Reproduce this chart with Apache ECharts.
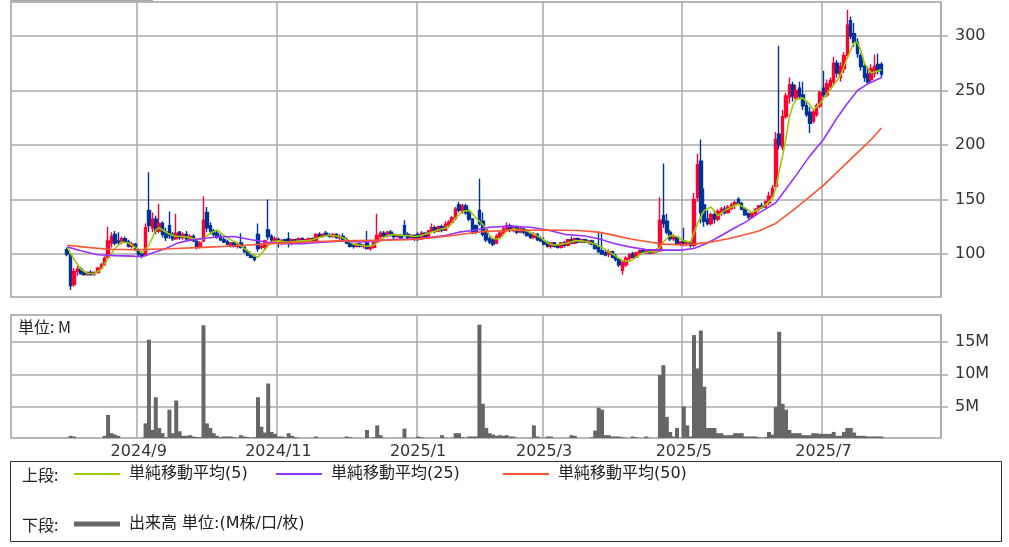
<!DOCTYPE html>
<html><head><meta charset="utf-8">
<script src="https://cdn.jsdelivr.net/npm/echarts@6/dist/echarts.min.js"></script>
<style>html,body{margin:0;padding:0;background:#fff}#c{width:1009px;height:547px}</style>
</head><body><div id="c"></div><script>
// ---------- calendar (Tokyo exchange trading days) ----------
const calendarStart = '2024/07/09';
const calendarEnd = '2025/08/20';
const holidays = ['2024/07/15','2024/08/12','2024/09/16','2024/09/23','2024/10/14','2024/11/04','2024/12/31',
  '2025/01/01','2025/01/02','2025/01/03','2025/01/13','2025/02/11','2025/02/24','2025/03/20','2025/04/29',
  '2025/05/05','2025/05/06','2025/07/21','2025/08/11'];
const monthLabels = ['2024/9','2024/11','2025/1','2025/3','2025/5','2025/7'];
const priceTicks = [100,150,200,250,300];
const volumeTicks = [5,10,15];

// ---------- daily candles [open, high, low, close] from 2024/08/01 ----------
const candleStart = '2024/08/01';
const candles = [
[104,106,98,100],[99,100,67,71],[72,87,70,84],[84,89,80,86],[86,88,81,82],[83,85,80,81],[81,84,80,83],[83,85,80,81],[82,84,80,83],[83,88,82,87],
[87,92,86,90],[90,98,89,96],[97,125,96,112],[110,120,106,116],[118,121,108,110],[112,120,108,111],[111,116,109,114],[114,116,110,111],[111,113,106,107],[107,111,105,109],
[109,110,103,104],[104,105,98,100],[100,102,96,98],[99,128,98,124],[140,175,120,126],[124,138,120,132],[132,135,118,121],[121,146,119,128],[128,130,115,118],[120,124,112,115],
[126,139,114,117],[118,120,112,114],[114,137,113,119],[120,121,113,115],[115,120,113,118],[118,121,112,114],[114,118,112,116],[116,118,111,112],[112,114,104,106],[106,112,105,110],
[112,153,111,131],[138,143,120,124],[126,129,118,121],[121,123,116,118],[119,121,114,116],[116,118,112,113],[113,115,110,111],[111,113,108,109],[108,111,106,110],[110,111,106,107],
[107,110,105,108],[110,119,105,106],[106,107,101,102],[102,104,98,99],[99,101,96,97],[97,98,93,95],[118,128,102,105],[106,110,104,107],[106,113,104,112],[122,150,113,116],
[116,118,111,113],[112,116,110,114],[113,115,106,110],[110,114,108,112],[113,114,109,110],[114,120,106,110],[110,114,108,113],[113,114,110,111],[111,115,110,114],[114,115,111,112],
[112,114,110,113],[113,115,111,114],[114,115,111,112],[112,119,111,118],[118,120,115,116],[116,119,115,118],[119,121,116,117],[117,119,115,116],[116,119,115,118],[118,119,114,115],
[115,118,113,116],[116,119,112,113],[113,115,109,110],[110,111,106,107],[108,109,105,107],[107,110,106,109],[109,110,106,107],[107,109,105,108],[110,121,104,105],[105,108,103,106],
[106,111,105,110],[111,137,110,117],[116,121,114,119],[119,121,115,117],[117,121,115,120],[120,122,116,118],[118,119,114,116],[116,118,115,117],[117,118,114,115],[126,131,116,118],
[118,120,113,115],[115,118,113,117],[117,118,112,114],[118,120,112,114],[114,121,113,119],[119,120,114,116],[116,122,115,121],[121,128,119,124],[124,126,119,121],[121,126,120,125],
[125,127,120,122],[122,130,121,127],[127,131,124,129],[129,135,127,133],[133,143,131,141],[145,148,138,140],[139,146,137,144],[144,146,136,138],[139,141,130,132],[132,133,118,120],
[126,127,118,120],[140,169,126,128],[130,138,116,118],[122,124,111,113],[114,116,109,111],[113,114,107,109],[110,118,109,116],[116,121,114,119],[119,125,117,123],[123,129,121,126],
[126,128,120,122],[122,126,120,124],[124,126,118,120],[120,125,119,123],[123,124,118,120],[121,123,116,117],[118,120,114,115],[115,120,114,118],[118,119,112,113],[114,116,111,112],
[112,115,108,109],[110,112,106,107],[107,111,105,110],[110,111,106,107],[108,109,105,106],[106,111,105,110],[110,112,106,108],[108,114,107,113],[113,116,109,110],[110,115,109,114],
[114,115,110,111],[111,114,110,113],[113,114,110,111],[111,113,109,112],[112,113,108,109],[109,110,104,105],[106,120,101,102],[103,119,99,100],[101,103,98,99],[100,104,97,102],
[102,103,96,97],[98,100,93,95],[95,96,88,90],[85,94,81,92],[90,98,88,96],[96,101,94,99],[100,102,96,97],[97,102,96,101],[101,104,99,103],[103,105,100,101],
[101,104,100,103],[103,104,100,101],[101,104,100,103],[103,105,101,102],[103,152,102,131],[135,183,124,128],[130,137,118,120],[120,122,112,114],[114,118,112,116],[115,116,108,109],
[109,112,107,111],[112,124,107,109],[109,112,107,110],[110,112,106,108],[108,156,106,150],[152,192,148,182],[185,205,128,138],[145,160,125,130],[132,140,126,128],[128,138,126,136],
[136,140,128,132],[132,141,130,139],[138,143,135,141],[141,144,136,138],[138,145,137,143],[142,147,140,145],[145,149,141,147],[150,152,145,146],[146,148,140,141],[141,143,135,136],
[137,138,132,134],[134,138,132,137],[137,142,135,141],[141,145,139,144],[144,147,141,143],[143,149,142,148],[147,157,145,153],[153,163,151,160],[162,212,160,205],[210,291,196,200],
[198,232,195,226],[226,248,224,245],[244,262,238,255],[255,258,240,245],[243,255,240,250],[252,258,242,245],[246,258,232,236],[236,240,226,228],[230,235,211,220],[222,232,220,230],
[228,238,226,236],[236,250,234,248],[252,268,244,246],[246,260,244,256],[254,262,250,259],[258,281,255,275],[275,278,262,266],[262,276,258,272],[270,285,266,282],[282,324,280,310],
[314,318,297,300],[302,312,290,294],[294,298,280,284],[282,284,268,272],[272,274,258,262],[265,272,256,258],[260,274,258,270],[266,283,262,272],[274,284,265,268],[274,276,262,265]
];

// ---------- daily volume (M shares) from 2024/08/01 ----------
const volume = [
0.3,0.6,0.5,0.2,0.15,0.1,0.1,0.1,0.1,0.15,
0.15,0.6,3.8,1.0,0.8,0.6,0.2,0.15,0.1,0.1,
0.15,0.2,0.3,2.5,15.3,1.5,6.5,1.8,1.0,0.4,
4.6,1.0,6.0,1.3,0.6,0.6,0.7,0.5,0.4,0.4,
17.5,2.5,1.8,1.0,0.6,0.4,0.5,0.5,0.5,0.4,
0.3,0.7,0.5,0.4,0.3,0.4,6.5,2.0,1.1,8.6,
1.2,0.9,0.5,0.5,0.4,1.0,0.6,0.4,0.3,0.2,
0.2,0.2,0.3,0.5,0.2,0.2,0.15,0.15,0.15,0.15,
0.15,0.2,0.5,0.4,0.2,0.15,0.15,0.2,1.5,0.3,
0.4,2.2,0.7,0.3,0.2,0.2,0.15,0.15,0.2,1.7,
0.3,0.2,0.15,0.5,0.4,0.2,0.2,0.15,0.2,0.2,
0.7,0.3,0.2,0.3,1.0,1.0,0.4,0.3,0.5,0.5,
0.5,17.6,5.5,1.8,1.0,0.8,0.6,0.7,0.6,0.7,
0.5,0.5,0.3,0.2,0.2,0.2,0.3,2.2,0.5,0.3,
0.3,0.5,0.5,0.2,0.15,0.15,0.15,0.2,0.7,0.6,
0.2,0.15,0.15,0.2,0.4,1.4,4.9,4.6,0.7,0.7,
0.5,0.5,0.5,0.4,0.3,0.2,0.5,0.4,0.2,0.2,
0.5,0.3,0.2,0.2,9.9,11.4,3.5,1.2,0.5,1.8,
0.3,5.1,2.2,0.5,16.0,10.9,16.7,8.1,1.8,1.8,
1.8,1.0,1.0,0.7,0.7,0.7,1.0,1.0,1.0,0.5,
0.5,0.5,0.5,0.4,0.3,0.4,1.2,0.8,5.0,16.5,
5.5,4.6,1.5,1.0,1.0,1.0,0.7,0.7,0.7,1.0,
1.0,0.9,0.9,0.9,0.9,1.2,0.6,0.6,1.2,1.8,
1.8,1.1,0.6,0.6,0.6,0.5,0.5,0.5,0.5,0.5
];

// ---------- moving averages [date, value] ----------
const ma5 = [
['2024/08/01',106],['2024/08/05',95],['2024/08/07',86],['2024/08/09',82],['2024/08/14',82],['2024/08/16',86],['2024/08/20',96],['2024/08/22',105],['2024/08/26',111],['2024/08/28',110],['2024/08/30',106],
['2024/09/03',101],['2024/09/05',108],['2024/09/09',122],['2024/09/10',124],['2024/09/11',122],['2024/09/13',118],['2024/09/18',116],['2024/09/20',116],['2024/09/25',115],['2024/09/27',113],
['2024/10/01',114],['2024/10/03',119],['2024/10/07',122],['2024/10/09',117],['2024/10/11',113],['2024/10/16',110],['2024/10/18',105],['2024/10/22',100],['2024/10/24',97],['2024/10/28',104],['2024/10/30',111],
['2024/11/01',112],['2024/11/06',111],['2024/11/08',111],['2024/11/12',112],['2024/11/14',112],['2024/11/18',113],['2024/11/20',115],['2024/11/22',117],['2024/11/26',117],['2024/11/28',116],
['2024/12/02',113],['2024/12/04',109],['2024/12/06',108],['2024/12/10',107],['2024/12/12',108],['2024/12/16',113],['2024/12/18',117],['2024/12/20',118],['2024/12/24',117],['2024/12/26',117],['2024/12/30',116],
['2025/01/07',117],['2025/01/09',119],['2025/01/14',121],['2025/01/16',123],['2025/01/20',125],['2025/01/22',133],['2025/01/24',139],['2025/01/28',140],['2025/01/30',133],
['2025/02/03',127],['2025/02/05',117],['2025/02/06',114],['2025/02/10',114],['2025/02/13',121],['2025/02/17',123],['2025/02/19',122],['2025/02/21',121],['2025/02/26',118],['2025/02/28',115],
['2025/03/04',110],['2025/03/06',108],['2025/03/10',109],['2025/03/12',110],['2025/03/14',112],['2025/03/18',112],['2025/03/21',111],['2025/03/25',109],['2025/03/27',106],['2025/03/31',102],
['2025/04/02',98],['2025/04/04',94],['2025/04/08',93],['2025/04/10',97],['2025/04/14',101],['2025/04/16',102],['2025/04/18',102],['2025/04/22',111],['2025/04/24',117],['2025/04/28',116],
['2025/05/01',112],['2025/05/07',111],['2025/05/09',128],['2025/05/13',140],['2025/05/15',143],['2025/05/19',135],['2025/05/21',140],['2025/05/23',143],['2025/05/27',146],['2025/05/29',142],
['2025/06/02',138],['2025/06/04',141],['2025/06/06',145],['2025/06/10',151],['2025/06/11',160],['2025/06/12',176],['2025/06/13',190],['2025/06/16',206],['2025/06/17',226],['2025/06/18',236],['2025/06/19',242],['2025/06/23',243],['2025/06/25',237],['2025/06/26',232],['2025/06/30',238],
['2025/07/02',247],['2025/07/04',255],['2025/07/08',264],['2025/07/10',280],['2025/07/14',294],['2025/07/15',294],['2025/07/16',286],['2025/07/17',275],['2025/07/22',266],['2025/07/24',268],['2025/07/25',269]
];
const ma25 = [
['2024/08/01',106.5],['2024/08/07',103],['2024/08/15',99.3],['2024/08/22',98.5],['2024/08/29',98],['2024/09/03',97.5],['2024/09/09',102],['2024/09/12',105],['2024/09/18',109.5],['2024/09/24',112],
['2024/09/30',114],['2024/10/07',115.5],['2024/10/15',116],['2024/10/22',113],['2024/10/29',110.8],['2024/11/06',109.5],['2024/11/13',109.5],['2024/11/20',110.5],['2024/11/29',112],
['2024/12/06',111],['2024/12/13',112],['2024/12/20',113.5],['2024/12/30',113.5],['2025/01/09',115],['2025/01/17',117],['2025/01/23',120],['2025/01/30',122],
['2025/02/05',124.5],['2025/02/14',125.5],['2025/02/25',124.5],['2025/03/04',122],['2025/03/11',118],['2025/03/19',116.5],['2025/03/26',114],['2025/04/01',110],['2025/04/08',106.5],
['2025/04/15',104],['2025/04/22',103.5],['2025/04/30',103.5],['2025/05/08',105],['2025/05/14',110],['2025/05/20',117],['2025/05/26',124],['2025/05/29',129],['2025/06/04',137.5],
['2025/06/11',147],['2025/06/18',168],['2025/06/25',190],['2025/07/01',205],['2025/07/07',225],['2025/07/10',238],['2025/07/15',250],['2025/07/18',256],['2025/07/25',262]
];
const ma50 = [
['2024/08/01',108],['2024/08/09',106],['2024/08/20',104.3],['2024/08/30',103.8],['2024/09/13',104.8],['2024/10/01',106],['2024/10/16',107.5],['2024/10/30',109.5],['2024/11/14',111],
['2024/11/28',112],['2024/12/12',112.5],['2024/12/26',113],['2025/01/09',114.5],['2025/01/20',116.5],['2025/01/27',118.5],['2025/02/03',120.5],['2025/02/14',121.5],['2025/03/03',122],
['2025/03/17',121.5],['2025/03/26',120],['2025/04/01',117.5],['2025/04/08',114],['2025/04/15',111.5],['2025/04/22',109],['2025/04/30',108.5],['2025/05/08',109],['2025/05/15',111],
['2025/05/22',114],['2025/05/28',117],['2025/06/04',121],['2025/06/11',128],['2025/06/18',140],['2025/06/24',150],['2025/07/01',163],['2025/07/09',181],['2025/07/16',196],['2025/07/22',205],['2025/07/25',215.5]
];

// ---------- build ----------
function pad(n){return (n<10?'0':'')+n;}
function makeDates(){
  const out=[]; const s=calendarStart.split('/').map(Number), e=calendarEnd.split('/').map(Number);
  const d=new Date(s[0],s[1]-1,s[2]); const end=new Date(e[0],e[1]-1,e[2]);
  while(d<=end){
    const str=d.getFullYear()+'/'+pad(d.getMonth()+1)+'/'+pad(d.getDate());
    const wd=d.getDay();
    if(wd!==0&&wd!==6&&holidays.indexOf(str)<0) out.push(str);
    d.setDate(d.getDate()+1);
  }
  return out;
}
const dates = makeDates();
const fmt = v => { const p=v.split('/'); return p[0]+'/'+(+p[1]); };
const isLabelDay = i => i>0 && dates[i].slice(0,7)!==dates[i-1].slice(0,7) && monthLabels.indexOf(fmt(dates[i]))>=0;
const off = dates.indexOf(candleStart);
const candleData = dates.map((d,i)=>{const c=candles[i-off]; return c?[c[0],c[3],c[2],c[1]]:'-';});
const volData = dates.map((d,i)=>{const v=volume[i-off]; return v===undefined?'-':v;});

const GRID='#aaaaaa', TXT='#333';
const FONT='"DejaVu Sans","Noto Sans CJK JP",sans-serif';
const UP='#ff0033', DOWN='#003399';
const C5='#99cc00', C25='#9933ff', C50='#ff5533', CV='#666666';

function xAxisFor(idx, labels){
  return {type:'category', gridIndex:idx, data:dates, boundaryGap:true,
    axisLine:{show:false}, axisTick:{show:false},
    splitLine:{show:true, interval:(i)=>isLabelDay(i), lineStyle:{color:GRID,width:1.5}},
    axisLabel:{show:labels, interval:(i)=>isLabelDay(i), formatter:v=>fmt(v), margin:6,
      fontFamily:FONT, fontSize:16, color:TXT}};
}
const legendCommon = {orient:'horizontal', itemWidth:46, itemHeight:2, selectedMode:false, padding:0,
  textStyle:{fontFamily:FONT, fontSize:16, color:'#222', padding:[0,0,0,4]}};

const chart = echarts.init(document.getElementById('c'), null, {renderer:'canvas'});
chart.setOption({
  animation:false,
  backgroundColor:'#fff',
  grid:[
    {left:11, top:2, width:930, height:295, show:true, borderColor:'#a0a0a0', borderWidth:1.5, outerBoundsMode:'none'},
    {left:11, top:315, width:930, height:123, show:true, borderColor:'#a0a0a0', borderWidth:1.5, outerBoundsMode:'none'}
  ],
  xAxis:[xAxisFor(0,false), xAxisFor(1,true)],
  yAxis:[
    {type:'value', gridIndex:0, position:'right', min:60.5, max:331.2,
     axisLine:{show:false},
     axisTick:{show:true, inside:false, length:7, customValues:priceTicks, lineStyle:{color:GRID,width:1.5}},
     axisLabel:{customValues:priceTicks, margin:14, fontFamily:FONT, fontSize:16, color:TXT},
     splitLine:{show:true, lineStyle:{color:GRID,width:1.5}}},
    {type:'value', gridIndex:1, position:'right', min:0.27, max:19.07,
     axisLine:{show:false},
     axisTick:{show:true, inside:false, length:7, customValues:volumeTicks, lineStyle:{color:GRID,width:1.5}},
     axisLabel:{customValues:volumeTicks, margin:14, formatter:v=>v+'M', fontFamily:FONT, fontSize:16, color:TXT},
     splitLine:{show:true, lineStyle:{color:GRID,width:1.5}}}
  ],
  legend:[
    Object.assign({left:74, top:466, data:[{name:'単純移動平均(5)', icon:'rect'}]}, legendCommon),
    Object.assign({left:276, top:466, data:[{name:'単純移動平均(25)', icon:'rect'}]}, legendCommon),
    Object.assign({left:503, top:466, data:[{name:'単純移動平均(50)', icon:'rect'}]}, legendCommon),
    Object.assign({}, legendCommon, {left:74, top:516, itemHeight:5, data:[{name:'出来高 単位:(M株/口/枚)', icon:'rect'}]})
  ],
  graphic:[
    {type:'rect', shape:{x:10, y:0, width:143, height:1.5}, style:{fill:'#aaa'}, silent:true},
    {type:'rect', shape:{x:10.5, y:461.5, width:991, height:80}, style:{fill:'none', stroke:'#333', lineWidth:1}, silent:true},
    {type:'text', x:22, y:475, style:{text:'上段:', font:'16px "Noto Sans CJK JP"', fill:'#222', verticalAlign:'middle'}, silent:true},
    {type:'text', x:22, y:525, style:{text:'下段:', font:'16px "Noto Sans CJK JP"', fill:'#222', verticalAlign:'middle'}, silent:true},
    {type:'text', x:18, y:327, style:{text:'単位: M', font:'16px "Noto Sans CJK JP"', fill:'#222', verticalAlign:'middle'}, silent:true}
  ],
  series:[
    {type:'candlestick', name:'price', xAxisIndex:0, yAxisIndex:0, data:candleData, barWidth:3,
     itemStyle:{color:UP, color0:DOWN, borderColor:UP, borderColor0:DOWN, borderWidth:1.4}, z:2},
    {type:'line', name:'単純移動平均(5)', xAxisIndex:0, yAxisIndex:0, data:ma5, showSymbol:false, smooth:false,
     itemStyle:{color:C5}, lineStyle:{color:C5, width:1.6}, z:4},
    {type:'line', name:'単純移動平均(25)', xAxisIndex:0, yAxisIndex:0, data:ma25, showSymbol:false,
     itemStyle:{color:C25}, lineStyle:{color:C25, width:1.6}, z:4},
    {type:'line', name:'単純移動平均(50)', xAxisIndex:0, yAxisIndex:0, data:ma50, showSymbol:false,
     itemStyle:{color:C50}, lineStyle:{color:C50, width:1.6}, z:4},
    {type:'bar', name:'出来高 単位:(M株/口/枚)', xAxisIndex:1, yAxisIndex:1, data:volData, barWidth:4,
     itemStyle:{color:CV}}
  ]
});
</script></body></html>
